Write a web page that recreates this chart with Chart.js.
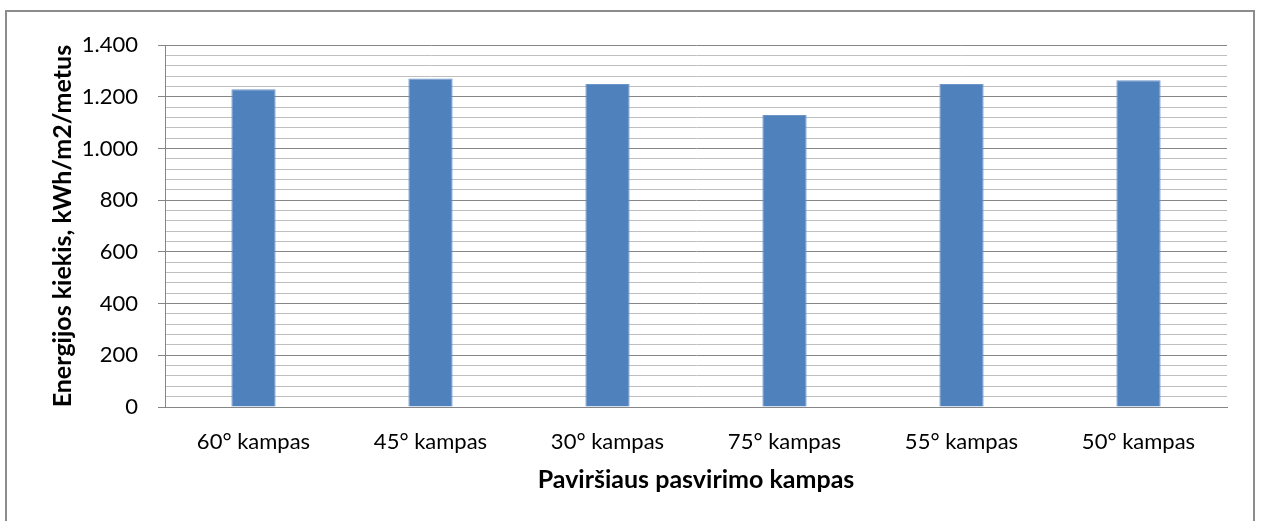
<!DOCTYPE html>
<html>
<head>
<meta charset="utf-8">
<script src="https://cdn.jsdelivr.net/npm/chart.js@4"></script>
<style>
  html, body { margin: 0; padding: 0; background: #fff; overflow: hidden; width: 1264px; height: 521px; }
  #frame { position: absolute; left: 5px; top: 10px; width: 1246px; height: 530px; border: 2px solid #8c8c8c; background: #fff; }
  canvas { display: block; }
</style>
</head>
<body>
<div id="frame"><canvas id="c" width="1246" height="509"></canvas></div>
<script>
const categories = ['60° kampas', '45° kampas', '30° kampas', '75° kampas', '55° kampas', '50° kampas'];
const values = [1230, 1271, 1250, 1130, 1250, 1264];
const yMin = 0;
const yMax = 1400;
const yMinorStep = 40;
const yMajorStep = 200;
const yTitle = 'Energijos kiekis, kWh/m2/metus';
const xTitle = 'Paviršiaus pasvirimo kampas';

function fmt(v) {
  const s = String(Math.round(v));
  return s.replace(/\B(?=(\d{3})+(?!\d))/g, '.');
}
function isMajor(v) { return Math.round(v) % yMajorStep === 0; }

const FONT = 'Lato, "Open Sans", sans-serif';
const MAJOR = '#868686';
const MINOR = '#bfbfbf';

new Chart(document.getElementById('c'), {
  type: 'bar',
  data: {
    labels: categories,
    datasets: [{
      data: values,
      backgroundColor: '#4F81BD',
      borderColor: '#6f95c8',
      borderWidth: 1,
      categoryPercentage: 1.0,
      barPercentage: 0.25
    }]
  },
  options: {
    responsive: false,
    animation: false,
    devicePixelRatio: 1,
    layout: { padding: { top: 30, right: 26, bottom: 0, left: 0 } },
    plugins: { legend: { display: false }, tooltip: { enabled: false } },
    scales: {
      x: {
        grid: { display: false, drawTicks: false },
        border: { display: true, color: MAJOR, width: 1 },
        ticks: { color: '#000', font: { family: FONT, size: 22 }, padding: 22, maxRotation: 0, autoSkip: false },
        title: { display: true, text: xTitle, color: '#000', font: { family: FONT, size: 25, weight: 'bold' }, padding: { top: 0, bottom: 26 } },
        afterFit: (s) => { s.height = 114; }
      },
      y: {
        min: yMin,
        max: yMax,
        grid: {
          color: (ctx) => isMajor(ctx.tick.value) ? MAJOR : MINOR,
          tickColor: (ctx) => isMajor(ctx.tick.value) ? MAJOR : 'rgba(0,0,0,0)',
          tickLength: 7,
          lineWidth: 1
        },
        border: { display: true, color: MAJOR, width: 1 },
        ticks: {
          stepSize: yMinorStep,
          maxTicksLimit: 100,
          autoSkip: false,
          color: '#000',
          font: { family: FONT, size: 22 },
          padding: 20,
          callback: (v) => isMajor(v) ? fmt(v) : ''
        },
        title: { display: true, text: yTitle, color: '#000', font: { family: FONT, size: 25, weight: 'bold' }, padding: { top: 41, bottom: 0 } },
        afterFit: (s) => { s.width = 158; }
      }
    }
  }
});
</script>
</body>
</html>
